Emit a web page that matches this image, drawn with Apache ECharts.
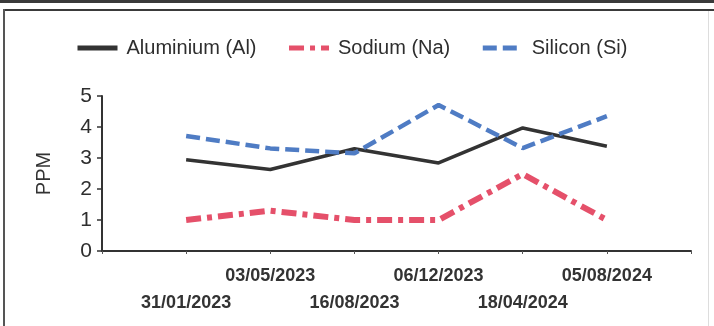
<!DOCTYPE html>
<html>
<head>
<meta charset="utf-8">
<script src="https://cdn.jsdelivr.net/npm/echarts@6/dist/echarts.min.js"></script>
<style>
html,body{margin:0;padding:0;background:#fff;}
#c{width:714px;height:326px;}
</style>
</head>
<body>
<div id="c"></div>
<script>
const categories = ['', '31/01/2023', '03/05/2023', '16/08/2023', '06/12/2023', '18/04/2024', '05/08/2024', ''];
const aluminium = [null, 2.94, 2.63, 3.3, 2.84, 3.97, 3.38, null];
const sodium    = [null, 1.0, 1.3, 1.0, 1.0, 2.48, 1.0, null];
const silicon   = [null, 3.71, 3.31, 3.15, 4.71, 3.32, 4.35, null];
const yTicks = [0, 1, 2, 3, 4, 5];
const seriesNames = ['Aluminium (Al)', 'Sodium (Na)', 'Silicon (Si)'];
const yName = 'PPM';

const FONT = "'Liberation Sans', Arial, sans-serif";
const chart = echarts.init(document.getElementById('c'), null, {renderer: 'canvas'});

chart.setOption({
  animation: false,
  backgroundColor: '#fff',
  textStyle: {fontFamily: FONT},
  graphic: [
    {type: 'rect', shape: {x: 0, y: 0, width: 714, height: 3}, style: {fill: '#3a3a3a'}},
    {type: 'rect', shape: {x: 3, y: 9, width: 711, height: 2}, style: {fill: '#3a3a3a'}},
    {type: 'rect', shape: {x: 3, y: 9, width: 2, height: 317}, style: {fill: '#555'}},
    {type: 'rect', shape: {x: 708, y: 11, width: 1, height: 315}, style: {fill: '#ddd'}}
  ],
  legend: {
    left: 70,
    top: 33,
    itemWidth: 40,
    itemHeight: 14,
    itemGap: 30,
    itemStyle: {opacity: 0},
    lineStyle: {width: 5},
    textStyle: {fontFamily: FONT, fontSize: 20, color: '#2e2e2e', padding: [0, 0, 0, 4]},
    data: seriesNames
  },
  grid: {left: 102, right: 23, top: 96, bottom: 75},
  xAxis: {
    type: 'category',
    data: categories,
    boundaryGap: false,
    axisLine: {lineStyle: {color: '#333', width: 2}},
    axisTick: {show: true, length: 3, lineStyle: {color: '#555', width: 1}, interval: 0},
    axisLabel: {
      interval: 0,
      margin: 12,
      fontFamily: FONT,
      fontSize: 18,
      fontWeight: 'bold',
      color: '#333',
      lineHeight: 27,
      formatter: function (v, i) { return (i % 2 === 1) ? '\n' + v : v; }
    },
    splitLine: {show: false}
  },
  yAxis: {
    type: 'value',
    min: yTicks[0],
    max: yTicks[yTicks.length - 1],
    interval: 1,
    name: yName,
    nameLocation: 'middle',
    nameGap: 48,
    nameRotate: 90,
    nameTextStyle: {fontFamily: FONT, fontSize: 20, color: '#333'},
    axisLine: {show: true, lineStyle: {color: '#333', width: 2}},
    axisTick: {show: true, length: 5, lineStyle: {color: '#333', width: 1.5}},
    axisLabel: {margin: 10, fontFamily: FONT, fontSize: 21, color: '#2e2e2e'},
    splitLine: {show: false}
  },
  series: [
    {
      name: seriesNames[0], type: 'line', data: aluminium, symbol: 'none',
      lineStyle: {color: '#333333', width: 3.5, type: 'solid'},
      itemStyle: {color: '#333333'}
    },
    {
      name: seriesNames[1], type: 'line', data: sodium, symbol: 'none',
      lineStyle: {color: '#e5506a', width: 6, type: [15, 6, 5, 6]},
      itemStyle: {color: '#e5506a'}
    },
    {
      name: seriesNames[2], type: 'line', data: silicon, symbol: 'none',
      lineStyle: {color: '#4f7cc4', width: 4.5, type: [14, 6]},
      itemStyle: {color: '#4f7cc4'}
    }
  ]
});
</script>
</body>
</html>
